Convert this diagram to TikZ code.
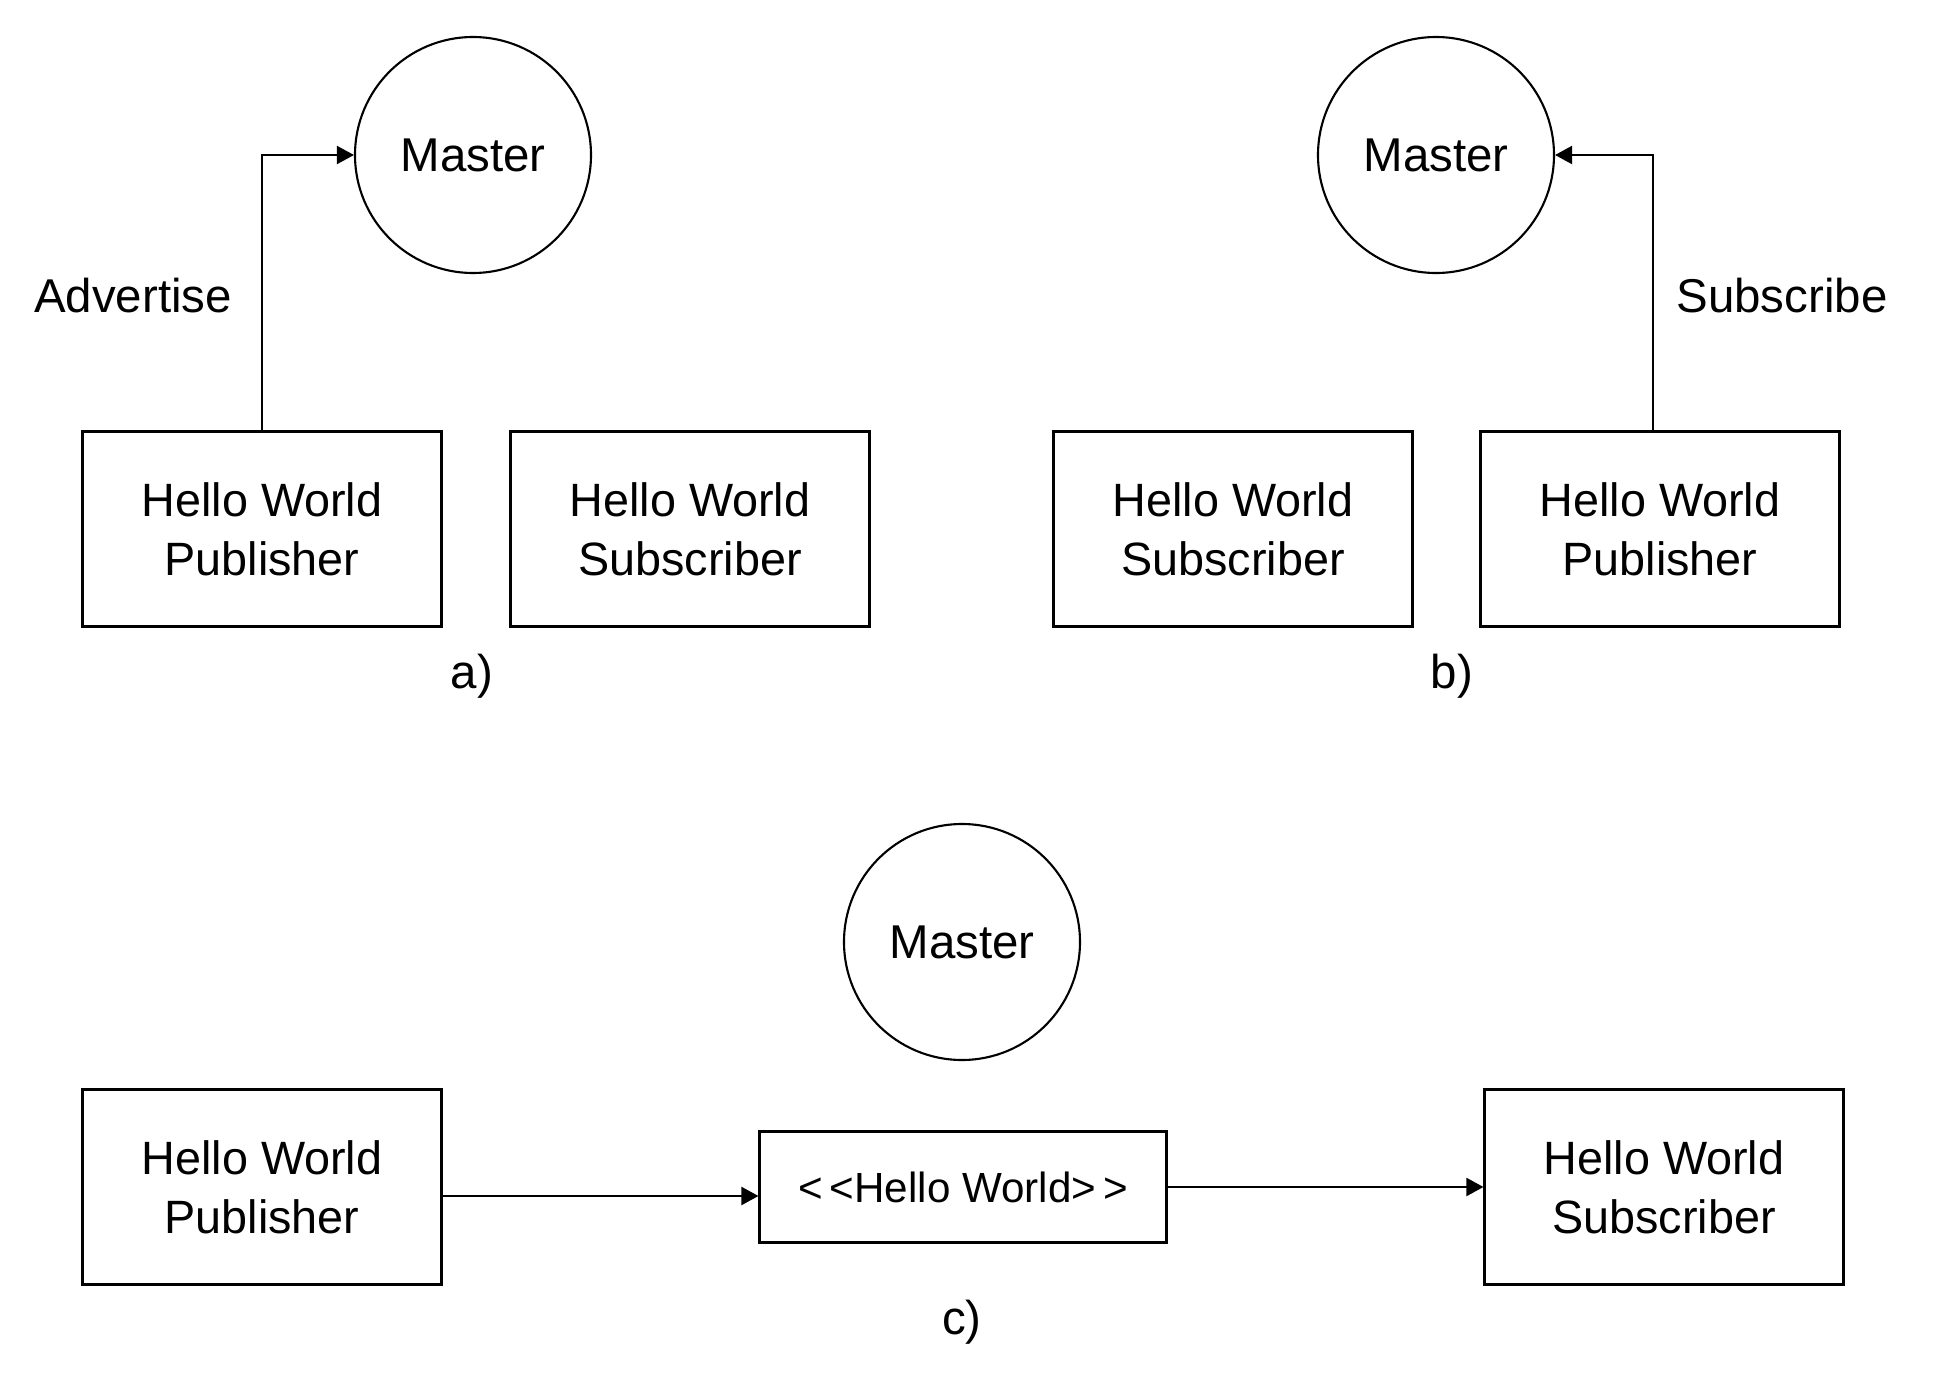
\documentclass[tikz,border=0pt]{standalone}
\usepackage{fontspec}
\setmainfont{Liberation Sans}
\usetikzlibrary{arrows.meta}
\begin{document}
\begin{tikzpicture}[x=0.1mm,y=-0.1mm,
  master/.style={draw,circle,minimum size=23.6mm,inner sep=0pt,
    font=\fontsize{13.5}{16.8}\selectfont},
  nodebox/.style={draw,minimum width=35.9mm,minimum height=19.5mm,
    inner sep=0pt,align=center,font=\fontsize{13.3}{16.8}\selectfont},
  topicbox/.style={draw,minimum width=40.7mm,minimum height=11.1mm,
    inner sep=0pt,font=\fontsize{12}{14}\selectfont},
  lbl/.style={font=\fontsize{13.5}{16.8}\selectfont},
  conn/.style={-{Triangle[length=1.7mm,width=1.8mm]}}]
\pgfsetlinewidth{.6pt}
\useasboundingbox (0,0) rectangle (1934,1387);
% a) advertise
\node[master] (masterA) at (473,155) {Master};
\node[nodebox] (pubA) at (262,529) {Hello World\\Publisher};
\node[nodebox] (subA) at (690,529) {Hello World\\Subscriber};
\draw[conn] (pubA.north) |- (masterA.west);
\node[lbl] (advA) at (133,296) {Advertise};
\node[lbl] (capA) at (472,676) {a)};
% b) subscribe
\node[master] (masterB) at (1436,155) {Master};
\node[nodebox] (subB) at (1233,529) {Hello World\\Subscriber};
\node[nodebox] (pubB) at (1660,529) {Hello World\\Publisher};
\draw[conn] ([xshift=-0.7mm]pubB.north) |- (masterB.east);
\node[lbl] (subsB) at (1782,296) {Subscribe};
\node[lbl] (capB) at (1452,676) {b)};
% c) topic
\node[master] (masterC) at (962,942) {Master};
\node[nodebox] (pubC) at (262,1187) {Hello World\\Publisher};
\node[topicbox] (topic) at (963,1187) {<\,<Hello World>\,>};
\node[nodebox] (subC) at (1664,1187) {Hello World\\Subscriber};
\draw[conn] ([yshift=-0.9mm]pubC.east) -- ([yshift=-0.9mm]topic.west);
\draw[conn] (topic.east) -- (subC.west);
\node[lbl] (capC) at (962,1322) {c)};
\end{tikzpicture}
\end{document}
